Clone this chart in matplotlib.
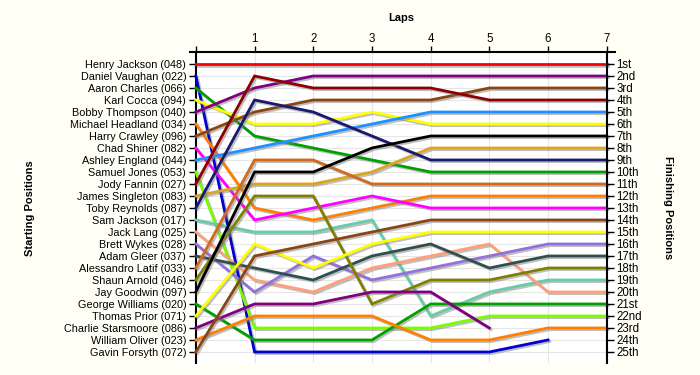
import matplotlib
matplotlib.use("Agg")
import matplotlib.pyplot as plt
import matplotlib.patheffects as pe
import numpy as np

plt.rcParams['font.family'] = ['Liberation Sans', 'DejaVu Sans']

laps = [0, 1, 2, 3, 4, 5, 6, 7]
lap_labels = ['', '1', '2', '3', '4', '5', '6', '7']

drivers = ['Henry Jackson (048)', 'Daniel Vaughan (022)', 'Aaron Charles (066)',
           'Karl Cocca (094)', 'Bobby Thompson (040)', 'Michael Headland (034)',
           'Harry Crawley (096)', 'Chad Shiner (082)', 'Ashley England (044)',
           'Samuel Jones (053)', 'Jody Fannin (027)', 'James Singleton (083)',
           'Toby Reynolds (087)', 'Sam Jackson (017)', 'Jack Lang (025)',
           'Brett Wykes (028)', 'Adam Gleer (037)', 'Alessandro Latif (033)',
           'Shaun Arnold (046)', 'Jay Goodwin (097)', 'George Williams (020)',
           'Thomas Prior (071)', 'Charlie Starsmoore (086)', 'William Oliver (023)',
           'Gavin Forsyth (072)']

colours = ['#FF0000', '#0000D0', '#00A000', '#FFFF00', '#800080',
           '#FF8000', '#8B4513', '#FF00FF', '#1E90FF', '#7CFC00',
           '#8B0000', '#DAA520', '#191970', '#66CDAA', '#FFA07A',
           '#9370DB', '#2F4F4F', '#D2691E', '#808000', '#000000',
           '#00A000', '#FFFF00', '#800080', '#FF8000', '#8B4513']

# position of each driver after each lap (None = retired)
positions = [
    [1, 1, 1, 1, 1, 1, 1, 1],
    [2, 25, 25, 25, 25, 25, 24, None],
    [3, 7, 8, 9, 10, 10, 10, 10],
    [4, 6, 6, 5, 6, 6, 6, 6],
    [5, 3, 2, 2, 2, 2, 2, 2],
    [6, 13, 14, 13, 12, 12, 12, 12],
    [7, 5, 4, 4, 4, 3, 3, 3],
    [8, 14, 13, 12, 13, 13, 13, 13],
    [9, 8, 7, 6, 5, 5, 5, 5],
    [10, 23, 23, 23, 23, 22, 22, 22],
    [11, 2, 3, 3, 3, 4, 4, 4],
    [12, 11, 11, 10, 8, 8, 8, 8],
    [13, 4, 5, 7, 9, 9, 9, 9],
    [14, 15, 15, 14, 22, 20, 19, 19],
    [15, 19, 20, 18, 17, 16, 20, 20],
    [16, 20, 17, 19, 18, 17, 16, 16],
    [17, 18, 19, 17, 16, 18, 17, 17],
    [18, 9, 9, 11, 11, 11, 11, 11],
    [19, 12, 12, 21, 19, 19, 18, 18],
    [20, 10, 10, 8, 7, 7, 7, 7],
    [21, 24, 24, 24, 21, 21, 21, 21],
    [22, 16, 18, 16, 15, 15, 15, 15],
    [23, 21, 21, 20, 20, 23, None, None],
    [24, 22, 22, 22, 24, 24, 23, 23],
    [25, 17, 16, 15, 14, 14, 14, 14],
]

finish_labels = ['1st', '2nd', '3rd', '4th', '5th', '6th', '7th', '8th', '9th',
                 '10th', '11th', '12th', '13th', '14th', '15th', '16th', '17th',
                 '18th', '19th', '20th', '21st', '22nd', '23rd', '24th', '25th']

bg = '#FFFFF6'
fig = plt.figure(figsize=(7, 3.75), dpi=100, facecolor=bg)
ax = fig.add_axes([190/700, 1 - 363/375, 425/700, 311/375])
ax.set_facecolor('white')

shadow = [pe.SimpleLineShadow(offset=(1.2, -1.2), shadow_color='#808080', alpha=0.5),
          pe.Normal()]

for name, col, pos in zip(drivers, colours, positions):
    y = np.array([np.nan if p is None else p for p in pos], dtype=float)
    ax.plot(laps, y, color=col, lw=2.0, solid_joinstyle='miter',
            path_effects=shadow, zorder=3)

ax.set_xlim(-0.1, 7.14)
ax.set_ylim(25.92, 0)

ax.spines['bottom'].set_visible(False)
ax.spines['right'].set_visible(False)
ax.spines['left'].set_position(('data', 0))
ax.spines['left'].set_linewidth(1.5)
ax.spines['top'].set_linewidth(1.5)

ax.xaxis.tick_top()
ax.set_xticks(laps)
ax.set_xticklabels(lap_labels, fontsize=8.3)
ax.tick_params(axis='x', direction='out', length=4, width=1, pad=1)

ax.set_yticks(range(1, 26))
ax.set_yticklabels(drivers, fontsize=7.8)
ax.tick_params(axis='y', direction='out', length=5, width=1, pad=2)

ax.grid(True, color='#E6E6E6', lw=0.8, zorder=0)
ax.set_axisbelow(True)

ax2 = ax.twinx()
ax2.set_ylim(25.92, 0)
for s in ['left', 'top', 'bottom']:
    ax2.spines[s].set_visible(False)
ax2.spines['right'].set_position(('data', 7))
ax2.spines['right'].set_linewidth(1.5)
ax2.set_yticks(range(1, 26))
ax2.set_yticklabels(finish_labels, fontsize=8.3)
ax2.tick_params(axis='y', direction='out', length=5, width=1, pad=2)

fig.text(401/700, 1 - 18/375, 'Laps', ha='center', va='center',
         fontsize=8, fontweight='bold')
fig.text(30/700, 1 - 208/375, 'Starting Positions', ha='center', va='center',
         rotation=90, fontsize=8, fontweight='bold')
fig.text(668/700, 1 - 208/375, 'Finishing Positions', ha='center', va='center',
         rotation=270, fontsize=8, fontweight='bold')

fig.savefig('out.png', dpi=100, facecolor=bg)
